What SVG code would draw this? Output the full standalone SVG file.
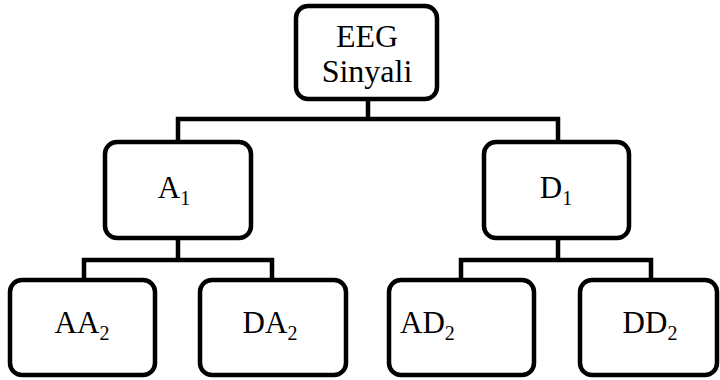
<svg xmlns="http://www.w3.org/2000/svg" width="720" height="380" viewBox="0 0 720 380">
<style>
.box{fill:#fff;stroke:#000;stroke-width:4.5}
.con{fill:none;stroke:#000;stroke-width:4.5;stroke-linecap:butt;stroke-linejoin:miter}
.t{font-size:31px}
.r{font-size:32px}
.s{font-size:20px}
</style>
<rect width="720" height="380" fill="#fff"/>
<g id="connectors">
<path class="con" d="M368,99 V119 M178,142 V119 H558 V142"/>
<path class="con" d="M178,238 V260 M84,280 V260 H272 V280"/>
<path class="con" d="M558,238 V260 M461,280 V260 H651 V280"/>
</g>
<g font-family="Liberation Serif, DejaVu Serif, serif" fill="#000">
<g id="root">
<rect class="box" x="296" y="6" width="141" height="93" rx="12"/>
<text class="r" x="367" y="47" text-anchor="middle">EEG</text>
<text class="r" x="367" y="82" text-anchor="middle">Sinyali</text>
</g>
<g id="A1">
<rect class="box" x="105" y="142" width="146" height="96" rx="12"/>
<text class="t" x="174" y="198" text-anchor="middle">A<tspan class="s" dy="7">1</tspan></text>
</g>
<g id="D1">
<rect class="box" x="484" y="142" width="145" height="96" rx="12"/>
<text class="t" x="556" y="198" text-anchor="middle">D<tspan class="s" dy="7">1</tspan></text>
</g>
<g id="AA2">
<rect class="box" x="10" y="280" width="145" height="95" rx="12"/>
<text class="t" x="82" y="333" text-anchor="middle">AA<tspan class="s" dy="7">2</tspan></text>
</g>
<g id="DA2">
<rect class="box" x="200" y="280" width="146" height="95" rx="12"/>
<text class="t" x="270" y="333" text-anchor="middle">DA<tspan class="s" dy="7">2</tspan></text>
</g>
<g id="AD2">
<rect class="box" x="389" y="280" width="145" height="95" rx="12"/>
<text class="t" x="400" y="333">AD<tspan class="s" dy="7">2</tspan></text>
</g>
<g id="DD2">
<rect class="box" x="580" y="280" width="137" height="95" rx="12"/>
<text class="t" x="650" y="333" text-anchor="middle">DD<tspan class="s" dy="7">2</tspan></text>
</g>
</g>
</svg>
